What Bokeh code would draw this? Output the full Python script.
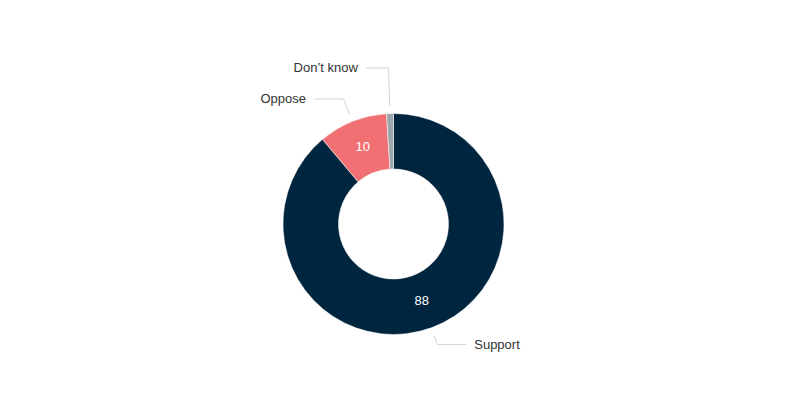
import math
from bokeh.plotting import figure
from bokeh.models import Range1d, ColumnDataSource
from bokeh.embed import file_html
from bokeh.resources import INLINE
from bokeh.core.properties import value

# ---- data ----
categories = ["Support", "Oppose", "Don\u2019t know"]
values = [88, 10, 1]
colors = ["#00253e", "#f07073", "#9ba6ad"]

# ---- layout ----
W, H = 769, 392
p = figure(width=W, height=H, x_range=Range1d(0, W), y_range=Range1d(16, 16 + H),
           output_backend="svg", toolbar_location=None, min_border=0)
p.axis.visible = False
p.grid.visible = False
p.outline_line_color = None
p.background_fill_color = "white"
p.border_fill_color = "white"

cx, cy = 393, 184.5
r_out, r_in = 110.5, 55
total = sum(values)

starts, ends, mids = [], [], []
acc = 0
for v in values:
    a0 = math.pi / 2 - 2 * math.pi * acc / total
    acc += v
    a1 = math.pi / 2 - 2 * math.pi * acc / total
    starts.append(a0)
    ends.append(a1)
    mids.append((a0 + a1) / 2)

src = ColumnDataSource(dict(x=[cx] * len(values), y=[cy] * len(values),
                            start=starts, end=ends, color=colors))
p.annular_wedge(x="x", y="y", inner_radius=r_in, outer_radius=r_out,
                start_angle="start", end_angle="end", direction="clock",
                fill_color="color", line_color="white", line_width=0.5, source=src)

# inside value labels
r_lab = (r_in + r_out) / 2
ix, iy, itxt = [], [], []
for v, m in zip(values, mids):
    if v / total >= 0.05:
        ix.append(cx + r_lab * math.cos(m))
        iy.append(cy + r_lab * math.sin(m) + 1)
        itxt.append(str(v))
p.text(x=ix, y=iy, text=itxt, text_color="white", text_align="center",
       text_baseline="middle", text_font=value("Liberation Sans"), text_font_size="13px")

# outside labels with connectors
dist = 21
spacing = 31
lift = 3
labels = []
for c, m in zip(categories, mids):
    side = 1 if math.cos(m) >= 0 else -1
    ny = cy + (r_out + dist) * math.sin(m) + lift
    labels.append(dict(cat=c, mid=m, side=side, y=ny))

for side in (-1, 1):
    grp = sorted([l for l in labels if l["side"] == side], key=lambda l: l["y"])
    for i in range(1, len(grp)):
        if grp[i]["y"] < grp[i - 1]["y"] + spacing:
            grp[i]["y"] = grp[i - 1]["y"] + spacing

xs, ys, tx, ty, tt, ta = [], [], [], [], [], []
for l in labels:
    m = l["mid"]
    s = l["side"]
    sx = cx + (r_out + 8) * math.cos(m)
    sy = cy + (r_out + 8) * math.sin(m)
    t = (l["y"] - cy) / math.sin(m)
    ex = cx + t * math.cos(m)
    hx = ex + s * (22 + 20 * abs(math.cos(m)))
    xs.append([sx, ex, hx])
    ys.append([sy, l["y"], l["y"]])
    tx.append(hx + s * 8)
    ty.append(l["y"])
    tt.append(l["cat"])
    ta.append("left" if s > 0 else "right")

p.multi_line(xs=xs, ys=ys, line_color="#ccd6dd", line_width=1)
p.text(x=tx, y=ty, text=tt, text_align=ta, text_baseline="middle",
       text_color="#333333", text_font=value("Liberation Sans"), text_font_size="13px")

open("out.html", "w").write(file_html(p, INLINE))
